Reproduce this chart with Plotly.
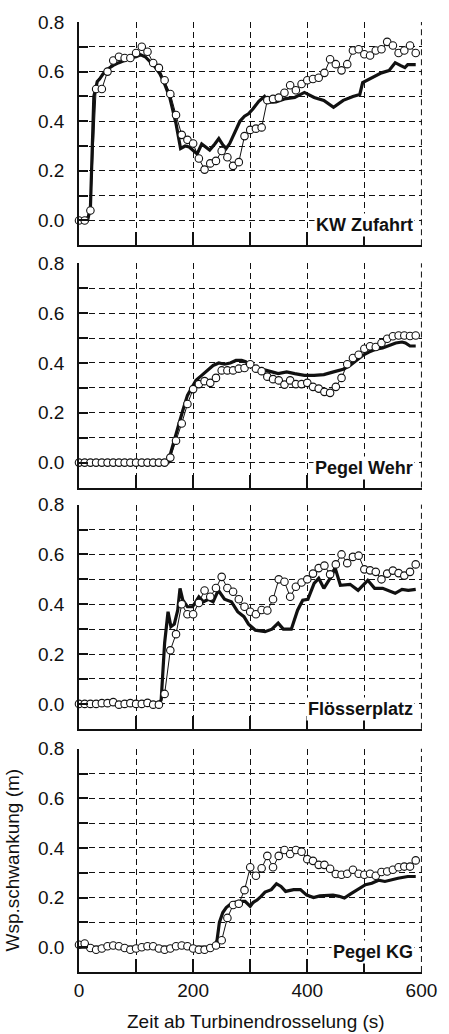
import plotly.graph_objects as go
from plotly.subplots import make_subplots

# Messzeitpunkte der Kreise (alle 10 s)
t_mess = list(range(0, 600, 10))

# --- KW Zufahrt ---
kw_mess = [0.0, 0.0, 0.04, 0.53, 0.53, 0.60, 0.645, 0.66, 0.655, 0.655,
           0.675, 0.70, 0.68, 0.635, 0.615, 0.565, 0.51, 0.425, 0.345, 0.325,
           0.31, 0.25, 0.205, 0.23, 0.24, 0.28, 0.255, 0.22, 0.235, 0.34,
           0.365, 0.37, 0.375, 0.485, 0.49, 0.495, 0.515, 0.545, 0.525, 0.55,
           0.565, 0.57, 0.575, 0.595, 0.65, 0.63, 0.605, 0.63, 0.685, 0.69,
           0.67, 0.665, 0.685, 0.69, 0.72, 0.705, 0.675, 0.685, 0.705, 0.675]
kw_t = [0, 15, 20, 23, 26, 28, 32, 36, 42, 50, 60, 70, 80, 91, 100, 108, 116, 125, 133, 142,
        150, 159, 165, 170, 178, 186, 193, 200, 207, 215, 222, 229, 238, 245, 252, 258, 264, 272, 282, 290,
        297, 305, 315, 325, 332, 345, 360, 378, 395, 412, 429, 446, 463, 480, 492, 497, 508, 520, 530, 543,
        554, 563, 571, 576, 585, 590]
kw_sim = [0, 0, 0.05, 0.3, 0.5, 0.52, 0.56, 0.57, 0.59, 0.61, 0.625, 0.636, 0.645, 0.656, 0.66, 0.668, 0.66, 0.64, 0.62, 0.59,
          0.55, 0.496, 0.44, 0.39, 0.29, 0.3, 0.296, 0.28, 0.268, 0.308, 0.295, 0.284, 0.308, 0.33, 0.305, 0.29, 0.31, 0.35, 0.40, 0.42,
          0.43, 0.45, 0.48, 0.50, 0.476, 0.478, 0.49, 0.496, 0.516, 0.496, 0.484, 0.456, 0.484, 0.50, 0.508, 0.556, 0.57, 0.584, 0.595, 0.604,
          0.636, 0.625, 0.616, 0.628, 0.628, 0.628]

# --- Pegel Wehr ---
wehr_mess = [0.0] * 16 + [
    0.02, 0.088, 0.157, 0.235, 0.295, 0.315, 0.327, 0.32, 0.34, 0.37,
    0.37, 0.37, 0.377, 0.38, 0.395, 0.377, 0.367, 0.345, 0.335, 0.33,
    0.313, 0.33, 0.315, 0.315, 0.32, 0.304, 0.297, 0.284, 0.28, 0.304,
    0.34, 0.395, 0.42, 0.433, 0.457, 0.467, 0.464, 0.48, 0.497, 0.507,
    0.51, 0.51, 0.508, 0.51]
wehr_t = [0, 150, 156, 162, 168, 175, 182, 190, 197, 205, 215, 225, 235, 245, 255, 265, 275, 285, 292, 300,
          310, 320, 330, 338, 349, 364, 378, 395, 412, 429, 446, 463, 475, 486, 497, 508, 520, 532, 543, 555,
          566, 572, 580, 590]
wehr_sim = [0, 0, 0.0, 0.05, 0.1, 0.15, 0.21, 0.27, 0.3, 0.33, 0.35, 0.37, 0.39, 0.40, 0.395, 0.40, 0.41, 0.41, 0.405, 0.39,
            0.38, 0.375, 0.37, 0.364, 0.357, 0.364, 0.357, 0.35, 0.35, 0.353, 0.364, 0.375, 0.39, 0.41, 0.43, 0.444, 0.455, 0.46, 0.47, 0.48,
            0.484, 0.48, 0.468, 0.468]

# --- Flösserplatz ---
floess_mess = [0.0, 0.0, 0.0, 0.0, 0.003, 0.003, 0.007, -0.003, 0.0, 0.003,
               0.0, 0.0, 0.004, -0.003, -0.003,
               0.04, 0.215, 0.28, 0.40, 0.36, 0.36, 0.405, 0.455, 0.43, 0.465,
               0.51, 0.465, 0.45, 0.42, 0.39, 0.37, 0.36, 0.377, 0.375, 0.42,
               0.50, 0.49, 0.43, 0.47, 0.487, 0.50, 0.523, 0.545, 0.555, 0.52,
               0.56, 0.60, 0.565, 0.59, 0.595, 0.54, 0.536, 0.53, 0.50, 0.523,
               0.535, 0.525, 0.515, 0.53, 0.56]
floess_t = [0, 140, 144, 150, 156, 161, 167, 173, 177, 182, 190, 199, 210, 218, 227, 235, 244, 255, 267, 278,
            289, 297, 309, 326, 338, 349, 358, 372, 383, 392, 401, 412, 420, 429, 441, 449, 458, 475, 489, 506,
            518, 532, 554, 566, 577, 590]
floess_sim = [0, 0, 0.016, 0.244, 0.37, 0.31, 0.32, 0.376, 0.464, 0.416, 0.39, 0.39, 0.43, 0.41, 0.42, 0.41, 0.456, 0.42, 0.41, 0.37,
              0.35, 0.32, 0.296, 0.29, 0.30, 0.324, 0.30, 0.30, 0.376, 0.416, 0.42, 0.484, 0.504, 0.464, 0.508, 0.544, 0.476, 0.48, 0.456, 0.496,
              0.464, 0.464, 0.444, 0.46, 0.456, 0.46]

# --- Pegel KG ---
kg_mess = [0.01, 0.015, -0.003, -0.01, -0.005, 0.004, 0.007, 0.004, -0.003, -0.01,
           -0.005, 0.0, 0.004, 0.004, -0.005, -0.01, -0.005, 0.004, 0.007, 0.004,
           -0.005, -0.01, -0.01, -0.003, 0.007, 0.028, 0.118, 0.17, 0.175, 0.23,
           0.322, 0.288, 0.318, 0.368, 0.322, 0.368, 0.392, 0.376, 0.392, 0.385,
           0.355, 0.348, 0.332, 0.332, 0.316, 0.295, 0.292, 0.296, 0.312, 0.296,
           0.292, 0.296, 0.288, 0.303, 0.305, 0.312, 0.322, 0.325, 0.325, 0.35]
kg_t = [0, 238, 242, 246, 252, 258, 268, 280, 291, 300, 305, 312, 319, 326, 337, 346, 354, 362, 376, 388,
        399, 411, 422, 434, 445, 456, 465, 476, 491, 502, 513, 525, 536, 548, 559, 576, 590]
kg_sim = [0, 0, 0.03, 0.1, 0.14, 0.16, 0.178, 0.185, 0.185, 0.165, 0.18, 0.19, 0.205, 0.222, 0.232, 0.256, 0.245, 0.225, 0.232, 0.232,
          0.21, 0.2, 0.207, 0.209, 0.21, 0.205, 0.198, 0.215, 0.238, 0.252, 0.258, 0.27, 0.265, 0.272, 0.278, 0.285, 0.285]

panels = [
    ("KW Zufahrt", kw_t, kw_sim, kw_mess),
    ("Pegel Wehr", wehr_t, wehr_sim, wehr_mess),
    ("Flösserplatz", floess_t, floess_sim, floess_mess),
    ("Pegel KG", kg_t, kg_sim, kg_mess),
]
domains = [[0.765, 1.0], [0.510, 0.746], [0.256, 0.492], [0.0, 0.235]]

SCHRIFT = "Arial, 'Liberation Sans', sans-serif"
SCHWARZ = "#111111"
GRID_DASH = "6px,4px"

fig = make_subplots(rows=4, cols=1, shared_xaxes=True)

for i, (name, ts, sim, mess) in enumerate(panels, start=1):
    xr = f"x{i}" if i > 1 else "x"
    yr = f"y{i}" if i > 1 else "y"
    fig.add_trace(go.Scatter(x=ts, y=sim, mode="lines", line=dict(color=SCHWARZ, width=3.2),
                             cliponaxis=False, showlegend=False), row=i, col=1)
    fig.add_trace(go.Scatter(x=t_mess, y=mess, mode="lines+markers",
                             line=dict(color=SCHWARZ, width=1),
                             marker=dict(symbol="circle", size=7.5, color="white",
                                         line=dict(color=SCHWARZ, width=1.1)),
                             cliponaxis=False, showlegend=False), row=i, col=1)
    # rechter Rahmen: gestrichelte Linie bei 600 s
    fig.add_shape(type="line", x0=600, x1=600, y0=0, y1=1, xref=xr, yref=f"{yr} domain",
                  line=dict(color=SCHWARZ, width=1, dash=GRID_DASH), layer="below")
    fig.add_annotation(x=588, y=-0.02, xref=xr, yref=yr,
                       text=f"<b>{name}</b>", showarrow=False, xanchor="right", yanchor="middle",
                       bgcolor="white", borderpad=1, font=dict(family=SCHRIFT, size=18, color=SCHWARZ))
    fig.update_yaxes(domain=domains[i - 1], row=i, col=1)

fig.update_xaxes(range=[0, 601], tick0=0, dtick=200, ticks="inside", ticklen=13, tickwidth=1.5,
                 tickcolor=SCHWARZ, showline=True, linecolor=SCHWARZ, linewidth=1.6,
                 showgrid=True, gridcolor=SCHWARZ, gridwidth=1, griddash=GRID_DASH, zeroline=False,
                 minor=dict(dtick=100, tick0=0, ticks="inside", ticklen=13, tickwidth=1.5, tickcolor=SCHWARZ,
                            showgrid=True, gridcolor=SCHWARZ, gridwidth=1, griddash=GRID_DASH),
                 tickfont=dict(family=SCHRIFT, size=19, color=SCHWARZ))
fig.update_yaxes(range=[-0.1, 0.8], tick0=0, dtick=0.2, tickformat=".1f", ticks="inside", ticklen=9,
                 tickwidth=1.5, tickcolor=SCHWARZ, showline=True, linecolor=SCHWARZ, linewidth=1.6,
                 showgrid=True, gridcolor=SCHWARZ, gridwidth=1, griddash=GRID_DASH, zeroline=False,
                 minor=dict(dtick=0.1, tick0=0, ticks="inside", ticklen=9, tickwidth=1.5, tickcolor=SCHWARZ,
                            showgrid=True, gridcolor=SCHWARZ, gridwidth=1, griddash=GRID_DASH),
                 ticklabelstandoff=9,
                 tickfont=dict(family=SCHRIFT, size=19, color=SCHWARZ))

fig.add_annotation(x=-0.195, y=0.1175, xref="paper", yref="paper", text="Wsp.schwankung (m)",
                   textangle=-90, showarrow=False, xanchor="center", yanchor="middle",
                   font=dict(family=SCHRIFT, size=19, color=SCHWARZ))
fig.add_annotation(x=0.516, y=-0.052, xref="paper", yref="paper", text="Zeit ab Turbinendrosselung (s)",
                   showarrow=False, xanchor="center", yanchor="middle",
                   font=dict(family=SCHRIFT, size=19, color=SCHWARZ))

fig.update_layout(width=449, height=1034, margin=dict(l=79, r=19, t=19, b=62),
                  plot_bgcolor="white", paper_bgcolor="white",
                  font=dict(family=SCHRIFT, size=19, color=SCHWARZ))

# Seitenrand des Browsers entfernen, damit die Grafik genau ins Fenster passt
fig.write_html("out.html", config={"displayModeBar": False},
               post_script="document.body.style.margin='0';document.body.style.overflow='hidden';")
